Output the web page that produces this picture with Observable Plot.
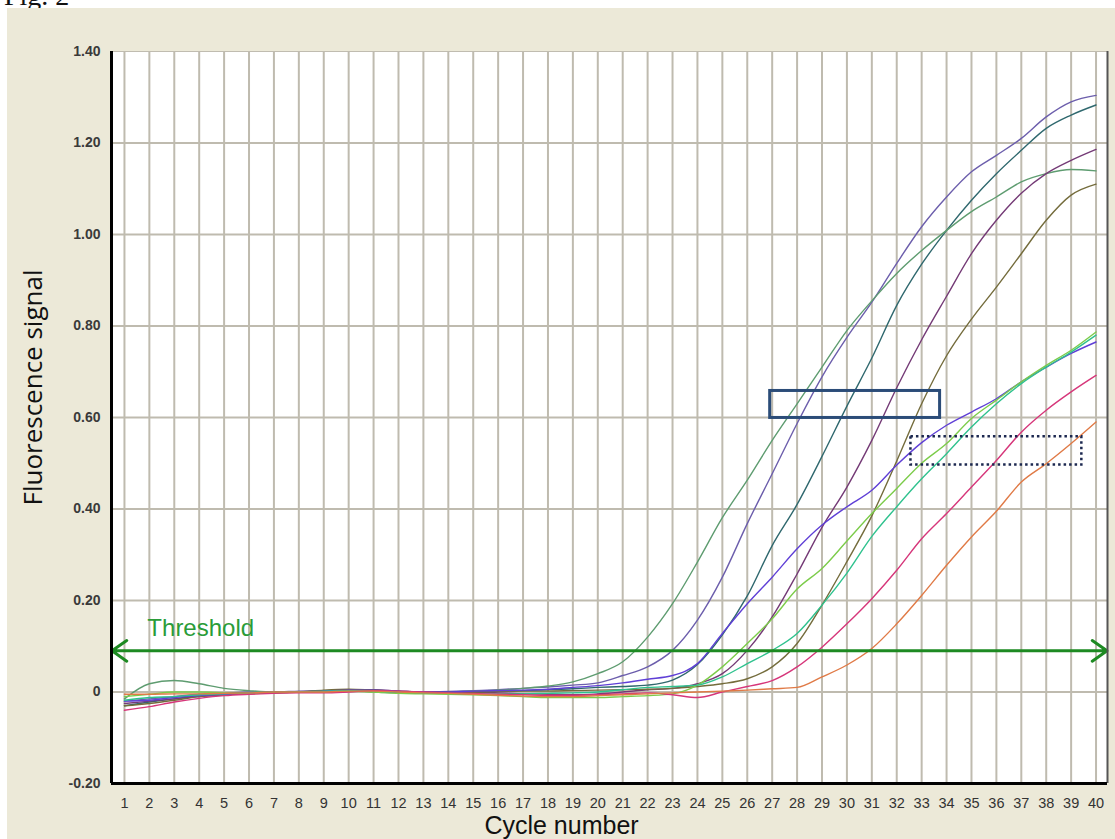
<!DOCTYPE html>
<html><head><meta charset="utf-8">
<script src="https://cdn.jsdelivr.net/npm/d3@7"></script>
<script src="https://cdn.jsdelivr.net/npm/@observablehq/plot@0.6"></script>
<style>
html,body{margin:0;padding:0;background:#fff;overflow:hidden;width:1115px;height:839px;position:relative}
#fig{position:absolute;left:4px;top:-18px;font:28px "Liberation Serif",serif;color:#111;line-height:28px}
#panel{position:absolute;left:7px;top:8px;width:1108px;height:831px;background:#ece9d8}
#panel svg{display:block}
</style></head><body>
<div id="fig">Fig. 2</div>
<div id="panel"></div>
<script>
const cycles = d3.range(1, 41);
const yTicks = [-0.2, 0, 0.2, 0.4, 0.6, 0.8, 1.0, 1.2, 1.4];
const seriesNames = ["A","B","C","D","E","F","G","H","I","J"];
const seriesColors = ["#6c5eac","#2f686e","#5e9c70","#743a76","#746c3c","#5f3fd6","#7ccc4a","#2fc28e","#d6367a","#e07a46"];
const sA = [-0.02,-0.015,-0.01,-0.005,-0.003,0.0,0.0,0.002,0.003,0.004,0.002,0.0,0.0,0.001,0.003,0.005,0.008,0.011,0.015,0.02,0.036,0.055,0.091,0.157,0.251,0.368,0.477,0.587,0.689,0.775,0.852,0.937,1.017,1.082,1.137,1.173,1.21,1.257,1.29,1.304];
const sB = [-0.03,-0.022,-0.015,-0.008,-0.004,-0.002,0.0,0.0,0.002,0.004,0.003,0.0,-0.002,0.0,0.0,0.002,0.003,0.005,0.007,0.01,0.012,0.015,0.026,0.06,0.125,0.21,0.32,0.41,0.515,0.625,0.73,0.845,0.935,1.009,1.075,1.133,1.184,1.232,1.261,1.283];
const sC = [-0.015,0.018,0.025,0.018,0.008,0.003,0.0,0.0,0.002,0.003,0.0,-0.002,-0.001,0.0,0.002,0.004,0.008,0.013,0.022,0.04,0.066,0.12,0.193,0.284,0.381,0.463,0.55,0.63,0.71,0.79,0.855,0.915,0.965,1.009,1.05,1.082,1.115,1.133,1.142,1.139];
const sD = [-0.025,-0.02,-0.015,-0.01,-0.006,-0.003,-0.002,0.0,0.002,0.005,0.005,0.002,0.0,0.0,0.0,-0.002,-0.004,-0.005,-0.006,-0.004,0.0,0.005,0.008,0.018,0.04,0.091,0.164,0.258,0.36,0.448,0.55,0.665,0.77,0.865,0.958,1.031,1.09,1.133,1.162,1.186];
const sE = [-0.03,-0.025,-0.018,-0.01,-0.006,-0.004,-0.002,0.0,0.004,0.006,0.004,0.002,0.0,0.0,0.0,0.001,0.002,0.002,0.003,0.004,0.005,0.006,0.008,0.012,0.018,0.029,0.055,0.106,0.19,0.285,0.385,0.505,0.63,0.735,0.815,0.885,0.958,1.031,1.086,1.11];
const sF = [-0.02,-0.018,-0.012,-0.008,-0.005,-0.003,0.0,0.0,0.002,0.004,0.004,0.002,0.0,0.0,0.002,0.003,0.004,0.006,0.01,0.014,0.02,0.028,0.036,0.062,0.128,0.193,0.251,0.313,0.365,0.405,0.441,0.496,0.545,0.583,0.612,0.641,0.678,0.71,0.74,0.765];
const sG = [-0.01,-0.005,0.0,0.0,-0.002,-0.003,-0.002,0.0,0.0,0.002,0.0,-0.003,-0.004,-0.005,-0.006,-0.008,-0.01,-0.012,-0.012,-0.012,-0.01,-0.008,-0.004,0.015,0.055,0.106,0.16,0.225,0.27,0.33,0.39,0.445,0.5,0.543,0.598,0.638,0.678,0.714,0.747,0.787];
const sH = [-0.018,-0.012,-0.01,-0.006,-0.004,-0.002,0.0,0.0,0.002,0.003,0.002,0.0,-0.002,-0.003,-0.004,-0.004,-0.004,-0.003,-0.002,0.0,0.005,0.01,0.012,0.015,0.033,0.062,0.091,0.128,0.19,0.26,0.34,0.405,0.466,0.521,0.579,0.63,0.674,0.71,0.743,0.78];
const sI = [-0.04,-0.032,-0.022,-0.014,-0.008,-0.005,-0.003,-0.002,-0.002,0.0,0.003,0.002,0.0,-0.002,-0.003,-0.005,-0.006,-0.007,-0.007,-0.006,-0.004,-0.002,-0.006,-0.012,0.0,0.012,0.025,0.055,0.098,0.149,0.204,0.266,0.335,0.39,0.448,0.506,0.568,0.616,0.656,0.692];
const sJ = [-0.005,-0.005,-0.004,-0.004,-0.003,-0.002,0.0,0.0,0.0,0.002,0.002,0.0,-0.002,-0.003,-0.005,-0.007,-0.009,-0.01,-0.01,-0.008,-0.006,-0.004,-0.002,0.0,0.002,0.004,0.007,0.01,0.033,0.059,0.095,0.149,0.211,0.277,0.339,0.395,0.459,0.499,0.543,0.59];
const thresholdValue = 0.09;
const thresholdLabel = "Threshold";
const solidBox = {x1: 26.92, x2: 33.74, y1: 0.599, y2: 0.658};
const dottedBox = {x1: 32.57, x2: 39.43, y1: 0.496, y2: 0.558};
const xLabel = "Cycle number";
const yLabel = "Fluorescence signal";

const allSeries = [sA,sB,sC,sD,sE,sF,sG,sH,sI,sJ];
const rows = [];
allSeries.forEach((vals, i) => vals.forEach((v, j) => rows.push({series: seriesNames[i], cycle: cycles[j], value: v})));

const X0 = 0.48, X1 = 40.46;
const chart = Plot.plot({
  width: 1108, height: 831,
  marginLeft: 104, marginRight: 8, marginTop: 43, marginBottom: 56,
  style: {background: "transparent", fontFamily: "'Liberation Sans', Arial, sans-serif", overflow: "visible"},
  x: {domain: [X0, X1], axis: null},
  y: {domain: [-0.2, 1.4], axis: null},
  color: {domain: seriesNames, range: seriesColors},
  marks: [
    Plot.frame({fill: "white", stroke: "none"}),
    Plot.gridX(cycles, {stroke: "#bfbbaf", strokeWidth: 2, strokeOpacity: 1}),
    Plot.gridY(yTicks.slice(1, -1), {stroke: "#bfbbaf", strokeWidth: 2, strokeOpacity: 1}),
    Plot.line(rows, {x: "cycle", y: "value", z: "series", stroke: "series", strokeWidth: 1.4, curve: "monotone-x"}),
    Plot.arrow([{a: 20, b: X0 + 0.02}, {a: 20, b: X1 - 0.02}], {x1: "a", x2: "b", y1: thresholdValue, y2: thresholdValue, stroke: "#1d8a22", strokeWidth: 3, headLength: 9, headAngle: 70}),
    Plot.text([thresholdLabel], {x: 1.92, y: 0.14, text: d => d, textAnchor: "start", fill: "#2a9c38", fontSize: 24}),
    Plot.rect([solidBox], {x1: "x1", x2: "x2", y1: "y1", y2: "y2", fill: "none", stroke: "#2b4c78", strokeWidth: 3}),
    Plot.rect([dottedBox], {x1: "x1", x2: "x2", y1: "y1", y2: "y2", fill: "none", stroke: "#1c2850", strokeWidth: 2.5, strokeDasharray: "2.5,3"}),
    Plot.ruleY([1.4], {stroke: "#c0bcb0", strokeWidth: 1}),
    Plot.ruleX([X1], {stroke: "#555", strokeWidth: 2}),
    Plot.ruleX([X0], {stroke: "#000", strokeWidth: 3}),
    Plot.ruleY([-0.2], {stroke: "#000", strokeWidth: 3}),
    Plot.text(cycles, {x: d => d, y: -0.2, dy: 20, text: d => String(d), textAnchor: "middle", fontSize: 14.5, fill: "#333"}),
    Plot.text(yTicks, {x: X0, y: d => d, dx: -11, text: d => d === 0 ? "0" : d.toFixed(2), textAnchor: "end", fontSize: 14, fontWeight: "bold", fill: "#3a3a3a"}),
    Plot.text([xLabel], {frameAnchor: "bottom-left", dx: 450, dy: 50, text: d => d, textAnchor: "middle", fontSize: 25, fill: "#111"}),
    Plot.text([yLabel], {frameAnchor: "left", dx: -78, dy: -30, rotate: -90, text: d => d, textAnchor: "middle", fontSize: 26, fontFamily: "'Open Sans', sans-serif", fill: "#111", letterSpacing: "1.5px"})
  ]
});
document.getElementById("panel").appendChild(chart);
</script>
</body></html>
